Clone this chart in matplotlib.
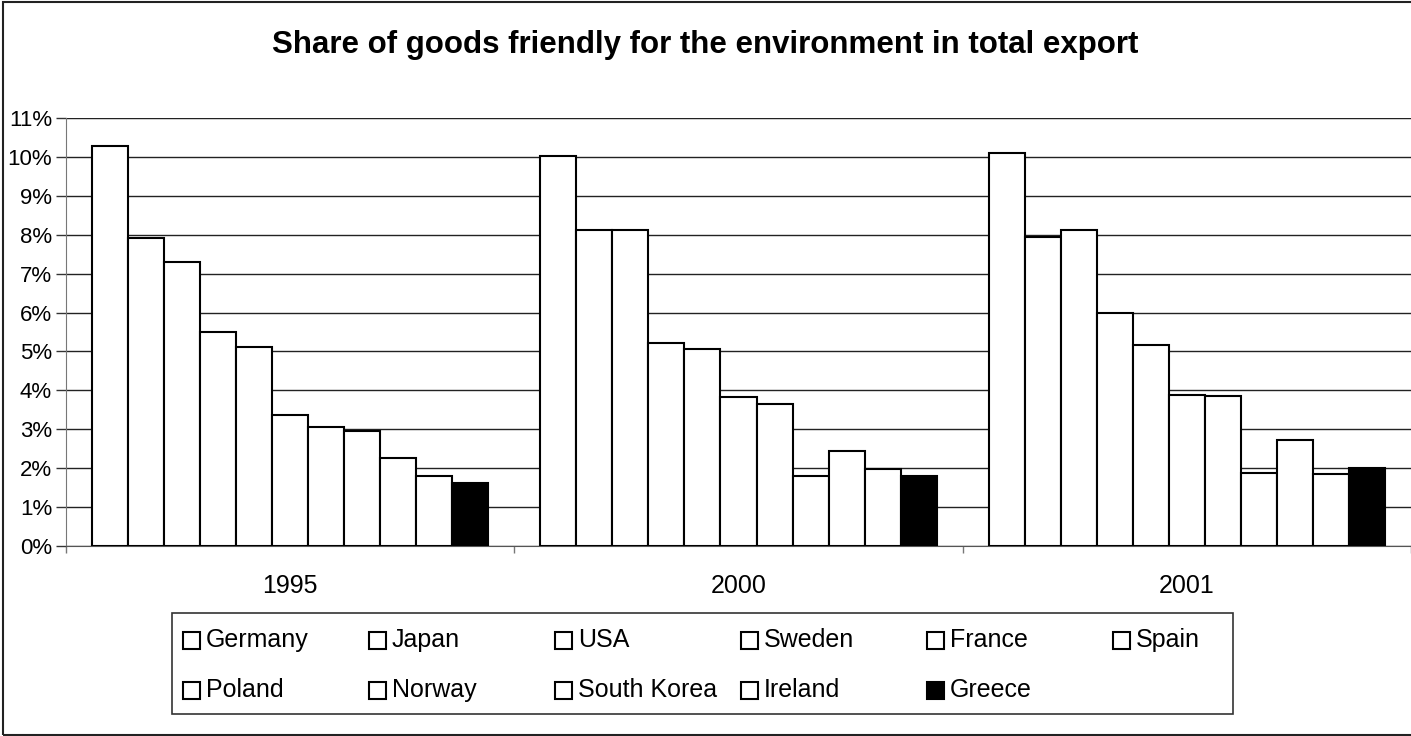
import numpy as np
import matplotlib.pyplot as plt
from matplotlib.patches import Rectangle
from matplotlib.ticker import FuncFormatter

plt.rcParams['font.family'] = ['Liberation Sans', 'DejaVu Sans']

years = ['1995', '2000', '2001']
countries = ['Germany', 'Japan', 'USA', 'Sweden', 'France', 'Spain',
             'Poland', 'Norway', 'South Korea', 'Ireland', 'Greece']
# share in total export (%), one list per country: 1995, 2000, 2001
germany = [10.29, 10.02, 10.11]
japan = [7.92, 8.11, 7.95]
usa = [7.29, 8.11, 8.12]
sweden = [5.50, 5.21, 6.00]
france = [5.11, 5.07, 5.17]
spain = [3.37, 3.84, 3.87]
poland = [3.07, 3.65, 3.86]
norway = [2.96, 1.79, 1.87]
south_korea = [2.25, 2.43, 2.72]
ireland = [1.80, 1.99, 1.85]
greece = [1.61, 1.80, 2.00]

series = [germany, japan, usa, sweden, france, spain,
          poland, norway, south_korea, ireland, greece]
fills = ['white'] * 10 + ['black']

W, H = 1411, 736
fig = plt.figure(figsize=(W / 100, H / 100), dpi=100)
ax = fig.add_axes([66 / W, (H - 546) / H, (W - 66) / W, 428 / H])

x = np.arange(len(years))
n = len(series)
w = 0.884 / n
for i, vals in enumerate(series):
    ax.bar(x + (i - (n - 1) / 2) * w, vals, w, color=fills[i],
           edgecolor='black', linewidth=1.5, zorder=3)

ax.set_ylim(0, 11)
ax.set_xlim(-0.5, 2.5)
ax.set_yticks(range(0, 12))
ax.yaxis.set_major_formatter(FuncFormatter(lambda v, p: f'{v:.0f}%'))
ax.grid(axis='y', color='#222222', linewidth=1, zorder=0)
ax.tick_params(axis='y', direction='out', length=7, width=1, color='#333333',
               labelsize=16, pad=3)

ax.set_xticks(x)
ax.set_xticklabels(years)
ax.tick_params(axis='x', length=0, labelsize=18, pad=20)
ax.set_xticks([-0.5, 0.5, 1.5, 2.5], minor=True)
ax.tick_params(axis='x', which='minor', direction='out', length=5, width=1,
               color='#777777')

for s in ['top', 'right']:
    ax.spines[s].set_visible(False)
ax.spines['left'].set_color('#777777')
ax.spines['bottom'].set_color('#555555')
ax.axhline(11, color='#888888', linewidth=1.5, zorder=1)

fig.text(0.5, 1 - 45 / H, 'Share of goods friendly for the environment in total export',
         ha='center', va='center', fontsize=22.5, fontweight='bold')

# legend box laid out like the original (equal column pitch)
lx0, lx1, ly0, ly1 = 172, 1233, 613, 714
fig.add_artist(Rectangle((lx0 / W, 1 - ly1 / H), (lx1 - lx0) / W, (ly1 - ly0) / H,
                         transform=fig.transFigure, facecolor='white',
                         edgecolor='#333333', linewidth=1.2))
ncol = 6
pitch = 186
sq = 17
for k, name in enumerate(countries):
    r, c = divmod(k, ncol)
    hx = 183 + c * pitch
    cy = 640 + r * 50
    fig.add_artist(Rectangle((hx / W, 1 - (cy + sq / 2) / H), sq / W, sq / H,
                             transform=fig.transFigure, facecolor=fills[k],
                             edgecolor='black', linewidth=1.5))
    fig.text((hx + sq + 6) / W, 1 - cy / H, name, ha='left', va='center',
             fontsize=18)

# outer chart border
fig.add_artist(Rectangle((3 / W, 1 / H), 1.2, (H - 3) / H,
                         transform=fig.transFigure, facecolor='none',
                         edgecolor='#222222', linewidth=1.5))

fig.savefig('out.png', dpi=100)
